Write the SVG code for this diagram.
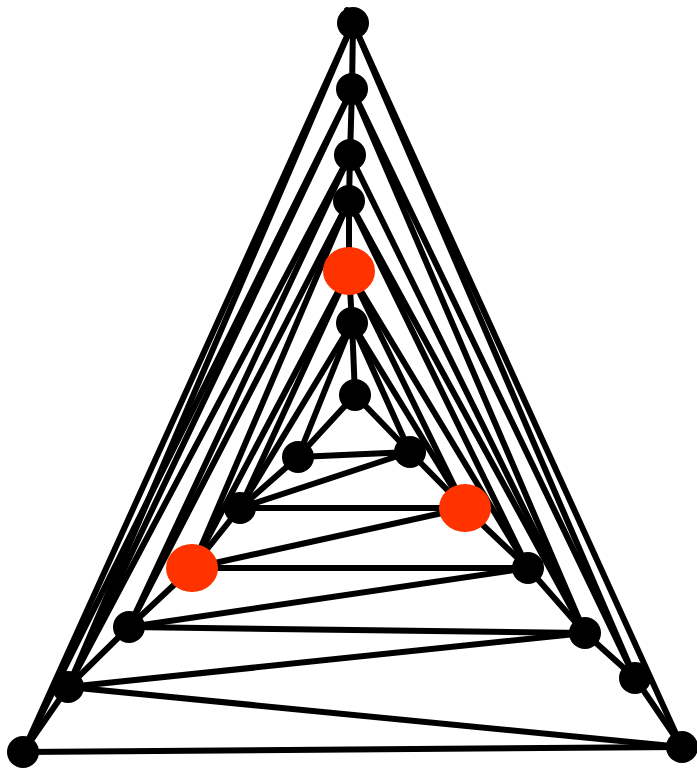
<svg xmlns="http://www.w3.org/2000/svg" width="697" height="771" viewBox="0 0 697 771">
<style>
.e line{stroke:#000;stroke-width:6;stroke-linecap:round}
.n{fill:#000}
.r{fill:#ff3300}
</style>
<rect width="697" height="771" fill="#fff"/>
<g class="e" id="edges">
<line x1="353" y1="23" x2="352" y2="89"/>
<line x1="352" y1="89" x2="350" y2="155"/>
<line x1="350" y1="155" x2="349" y2="201"/>
<line x1="349" y1="201" x2="349" y2="271"/>
<line x1="349" y1="271" x2="352" y2="323"/>
<line x1="352" y1="323" x2="355" y2="395"/>
<line x1="298" y1="457" x2="240" y2="508"/>
<line x1="240" y1="508" x2="192" y2="568"/>
<line x1="192" y1="568" x2="129" y2="627"/>
<line x1="129" y1="627" x2="68" y2="687"/>
<line x1="68" y1="687" x2="23" y2="752"/>
<line x1="410" y1="452" x2="465" y2="508"/>
<line x1="465" y1="508" x2="528" y2="568"/>
<line x1="528" y1="568" x2="585" y2="633"/>
<line x1="585" y1="633" x2="635" y2="678"/>
<line x1="635" y1="678" x2="682" y2="747"/>
<line x1="355" y1="395" x2="298" y2="457"/>
<line x1="352" y1="323" x2="298" y2="457"/>
<line x1="352" y1="323" x2="240" y2="508"/>
<line x1="349" y1="271" x2="240" y2="508"/>
<line x1="349" y1="271" x2="192" y2="568"/>
<line x1="349" y1="201" x2="192" y2="568"/>
<line x1="349" y1="201" x2="129" y2="627"/>
<line x1="350" y1="155" x2="129" y2="627"/>
<line x1="350" y1="155" x2="68" y2="687"/>
<line x1="352" y1="89" x2="68" y2="687"/>
<line x1="352" y1="89" x2="23" y2="752"/>
<line x1="353" y1="23" x2="68" y2="687"/>
<line x1="353" y1="23" x2="23" y2="752"/>
<line x1="355" y1="395" x2="410" y2="452"/>
<line x1="352" y1="323" x2="410" y2="452"/>
<line x1="352" y1="323" x2="465" y2="508"/>
<line x1="349" y1="271" x2="465" y2="508"/>
<line x1="349" y1="271" x2="528" y2="568"/>
<line x1="349" y1="201" x2="528" y2="568"/>
<line x1="349" y1="201" x2="585" y2="633"/>
<line x1="350" y1="155" x2="585" y2="633"/>
<line x1="352" y1="89" x2="585" y2="633"/>
<line x1="352" y1="89" x2="635" y2="678"/>
<line x1="353" y1="23" x2="635" y2="678"/>
<line x1="347" y1="10" x2="682" y2="747"/>
<line x1="298" y1="457" x2="410" y2="452"/>
<line x1="240" y1="508" x2="410" y2="452"/>
<line x1="240" y1="508" x2="465" y2="508"/>
<line x1="192" y1="568" x2="465" y2="508"/>
<line x1="192" y1="568" x2="528" y2="568"/>
<line x1="129" y1="627" x2="528" y2="568"/>
<line x1="129" y1="627" x2="585" y2="633"/>
<line x1="68" y1="687" x2="585" y2="633"/>
<line x1="68" y1="687" x2="682" y2="747"/>
<line x1="23" y1="752" x2="682" y2="747"/>
</g>
<g id="nodes">
<ellipse id="t0" class="n" cx="353" cy="23" rx="16" ry="16"/>
<ellipse id="t1" class="n" cx="352" cy="89" rx="16" ry="16"/>
<ellipse id="t2" class="n" cx="350" cy="155" rx="16" ry="16"/>
<ellipse id="t3" class="n" cx="349" cy="201" rx="16" ry="16"/>
<ellipse id="t4" class="r" cx="349" cy="271" rx="26" ry="24"/>
<ellipse id="t5" class="n" cx="352" cy="323" rx="16" ry="16"/>
<ellipse id="t6" class="n" cx="355" cy="395" rx="16" ry="16"/>
<ellipse id="l0" class="n" cx="298" cy="457" rx="16" ry="16"/>
<ellipse id="l1" class="n" cx="240" cy="508" rx="16" ry="16"/>
<ellipse id="l2" class="r" cx="192" cy="568" rx="26" ry="24"/>
<ellipse id="l3" class="n" cx="129" cy="627" rx="16" ry="16"/>
<ellipse id="l4" class="n" cx="68" cy="687" rx="16" ry="16"/>
<ellipse id="l5" class="n" cx="23" cy="752" rx="16" ry="16"/>
<ellipse id="r0" class="n" cx="410" cy="452" rx="16" ry="16"/>
<ellipse id="r1" class="r" cx="465" cy="508" rx="26" ry="24"/>
<ellipse id="r2" class="n" cx="528" cy="568" rx="16" ry="16"/>
<ellipse id="r3" class="n" cx="585" cy="633" rx="16" ry="16"/>
<ellipse id="r4" class="n" cx="635" cy="678" rx="16" ry="16"/>
<ellipse id="r5" class="n" cx="682" cy="747" rx="16" ry="16"/>
</g>
</svg>
